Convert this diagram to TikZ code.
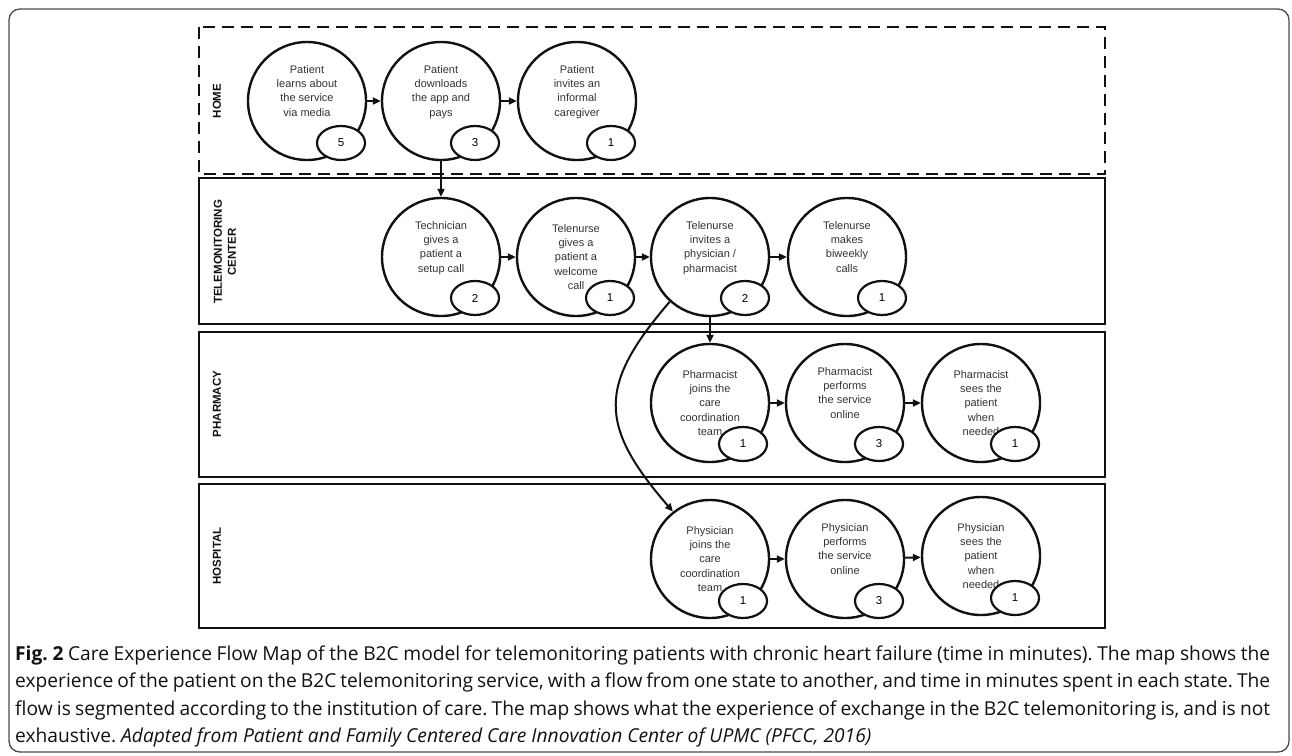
\documentclass[tikz,border=0pt]{standalone}
\usepackage{fontspec}
\setmainfont{Liberation Sans}
\newfontfamily\capfont{Open Sans}
\usepackage{xcolor}
\usetikzlibrary{arrows.meta,shapes.geometric}
\definecolor{ink}{HTML}{111111}
\definecolor{txt}{HTML}{333333}
\definecolor{edge}{HTML}{4A4A4A}
\frenchspacing

\begin{document}
\begin{tikzpicture}[x=1pt,y=-1pt,
  lane/.style={draw=ink,line width=2.8pt},
  lbl/.style={font=\bfseries\fontsize{11.5}{14}\selectfont,rotate=90,
              align=center,text=ink},
  state/.style={circle,draw=ink,line width=2.4pt,minimum size=118pt,
                inner sep=0pt,align=center,text=txt,
                font=\fontsize{11}{14.3}\selectfont},
  mins/.style={ellipse,draw=ink,line width=2.2pt,fill=white,minimum width=48pt,
               minimum height=34pt,inner sep=0pt,font=\fontsize{11.5}{13}\selectfont},
  flow/.style={-{Triangle[length=8pt,width=7pt]},line width=2pt,draw=ink},
  capline/.style={anchor=base west,inner sep=0pt,text=ink,
              font=\capfont\fontsize{19.2}{27.5}\selectfont}]
\useasboundingbox (0,0) rectangle (1292,755);
\draw[edge,line width=1.3pt,rounded corners=11pt] (9,9) rectangle (1289,752);
\draw[lane,dash pattern=on 12pt off 7pt] (199,27) rectangle (1105,174);
\draw[lane] (199,178) rectangle (1105,324);
\draw[lane] (199,332) rectangle (1105,477);
\draw[lane] (199,484) rectangle (1105,628);
\node[lbl] (lhome) at (217,101) {HOME};
\node[lbl] (ltele) at (225,252) {TELEMONITORING\\CENTER};
\node[lbl] (lpharm) at (217,404) {PHARMACY};
\node[lbl] (lhosp) at (217,556) {HOSPITAL};
\node[state] (h1) at (307,101) {Patient\\learns about\\the service\\via media\\[6pt]};
\node[state] (h2) at (441,101) {Patient\\downloads\\the app and\\pays\\[6pt]};
\node[state] (h3) at (577,101) {Patient\\invites an\\informal\\caregiver\\[6pt]};
\node[state] (t1) at (441,257) {Technician\\gives a\\patient a\\setup call\\[6pt]};
\node[state] (t2) at (576,257) {Telenurse\\gives a\\patient a\\welcome\\call};
\node[state] (t3) at (710,257) {Telenurse\\invites a\\physician /\\pharmacist\\[6pt]};
\node[state] (t4) at (847,257) {Telenurse\\makes\\biweekly\\calls\\[6pt]};
\node[state] (p1) at (710,403) {Pharmacist\\joins the\\care\\coordination\\team};
\node[state] (p2) at (845,403) {Pharmacist\\performs\\the service\\online\\[6pt]};
\node[state] (p3) at (981,403) {Pharmacist\\sees the\\patient\\when\\needed};
\node[state] (d1) at (710,559) {Physician\\joins the\\care\\coordination\\team};
\node[state] (d2) at (845,559) {Physician\\performs\\the service\\online\\[6pt]};
\node[state] (d3) at (981,556) {Physician\\sees the\\patient\\when\\needed};
\node[mins] (mh1) at (341,143) {5};
\node[mins] (mh2) at (475,143) {3};
\node[mins] (mh3) at (611,143) {1};
\node[mins] (mt1) at (475,298) {2};
\node[mins] (mt2) at (610,298) {1};
\node[mins] (mt3) at (745,298) {2};
\node[mins] (mt4) at (882,298) {1};
\node[mins] (mp1) at (743,444) {1};
\node[mins] (mp2) at (879,444) {3};
\node[mins] (mp3) at (1015,444) {1};
\node[mins] (md1) at (743,601) {1};
\node[mins] (md2) at (879,601) {3};
\node[mins] (md3) at (1015,598) {1};
\draw[flow] (h1) -- (h2);
\draw[flow] (h2) -- (h3);
\draw[flow] (h2) -- (t1);
\draw[flow] (t1) -- (t2);
\draw[flow] (t2) -- (t3);
\draw[flow] (t3) -- (t4);
\draw[flow] (t3) -- (p1);
\draw[flow] (p1) -- (p2);
\draw[flow] (p2) -- (p3);
\draw[flow] (t3.228) .. controls (598,385) and (598,425) .. (d1.128);
\draw[flow] (d1) -- (d2);
\draw[flow] (d2) -- (d3);
\node[capline] (c1) at (15,660) {\hbox to 1255pt{\textbf{Fig. 2} Care Experience Flow Map of the B2C model for telemonitoring patients with chronic heart failure (time in minutes). The map shows the}};
\node[capline] (c2) at (15,687.5) {\hbox to 1255pt{experience of the patient on the B2C telemonitoring service, with a flow from one state to another, and time in minutes spent in each state. The}};
\node[capline] (c3) at (15,715) {\hbox to 1255pt{flow is segmented according to the institution of care. The map shows what the experience of exchange in the B2C telemonitoring is, and is not}};
\node[capline] (c4) at (15,742.5) {exhaustive. \textit{Adapted from Patient and Family Centered Care Innovation Center of UPMC (PFCC, 2016)}};
\end{tikzpicture}
\end{document}
